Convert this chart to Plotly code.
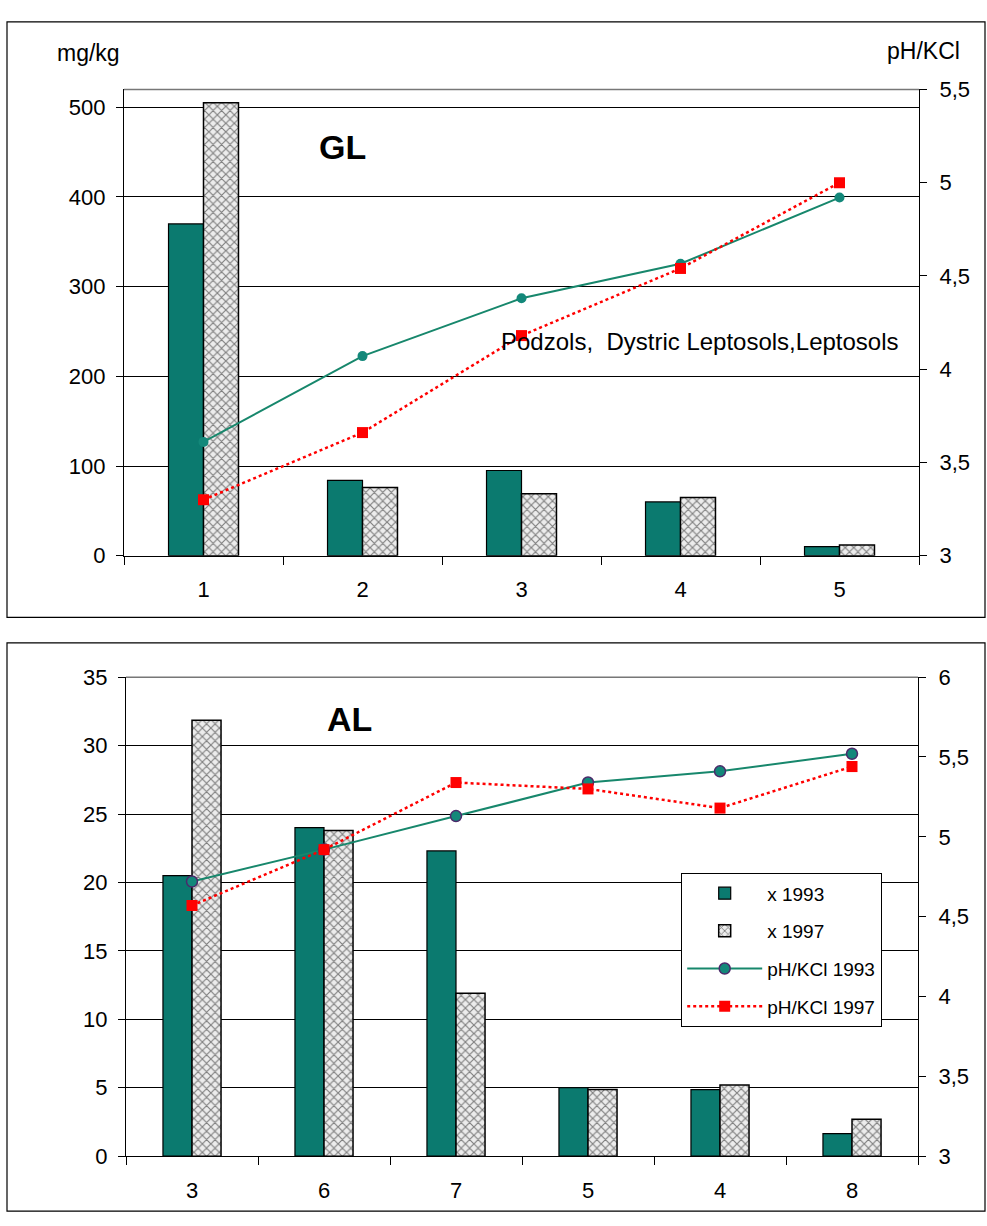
import plotly.graph_objects as go

FONT = "Liberation Sans, Arial, sans-serif"

# ---- data: top panel (GL) ----
gl_cats = ["1", "2", "3", "4", "5"]
gl_x1993 = [370, 84, 95, 60, 10]
gl_x1997 = [505, 76, 69, 65, 12]
gl_ph1993 = [3.61, 4.07, 4.38, 4.565, 4.92]
gl_ph1997 = [3.30, 3.66, 4.18, 4.54, 5.00]
gl_left_ticks = [0, 100, 200, 300, 400, 500]
gl_right_vals = [3, 3.5, 4, 4.5, 5, 5.5]
gl_right_text = ["3", "3,5", "4", "4,5", "5", "5,5"]

# ---- data: bottom panel (AL) ----
al_cats = ["3", "6", "7", "5", "4", "8"]
al_x1993 = [20.5, 24.0, 22.3, 5.0, 4.87, 1.65]
al_x1997 = [31.85, 23.8, 11.9, 4.87, 5.2, 2.7]
al_ph1993 = [4.72, 4.92, 5.13, 5.34, 5.41, 5.52]
al_ph1997 = [4.57, 4.92, 5.34, 5.30, 5.18, 5.44]
al_left_ticks = [0, 5, 10, 15, 20, 25, 30, 35]
al_right_vals = [3, 3.5, 4, 4.5, 5, 5.5, 6]
al_right_text = ["3", "3,5", "4", "4,5", "5", "5,5", "6"]

W, H = 987, 1226
TEAL_BAR = "#0b7a6f"
TEAL_LINE = "#17876c"
RED = "#ff0000"

def px(x):
    return x / W

def py(y):
    return 1 - y / H

hatch = dict(shape="x", fgcolor="#111", bgcolor="#ececec", size=6, solidity=0.35)

fig = go.Figure()

# top panel traces
fig.add_trace(go.Bar(x=gl_cats, y=gl_x1993, name="x 1993", xaxis="x", yaxis="y",
                     marker=dict(color=TEAL_BAR, line=dict(color="black", width=1.2)),
                     showlegend=False, offsetgroup="a"))
fig.add_trace(go.Bar(x=gl_cats, y=gl_x1997, name="x 1997", xaxis="x", yaxis="y",
                     marker=dict(color="white", line=dict(color="black", width=1.5),
                                 pattern=hatch),
                     showlegend=False, offsetgroup="b"))
fig.add_trace(go.Scatter(x=gl_cats, y=gl_ph1993, name="pH/KCl 1993", xaxis="x", yaxis="y2",
                         mode="lines+markers", line=dict(color=TEAL_LINE, width=2),
                         marker=dict(symbol="circle", size=10, color="#13887a"),
                         showlegend=False))
fig.add_trace(go.Scatter(x=gl_cats, y=gl_ph1997, name="pH/KCl 1997", xaxis="x", yaxis="y2",
                         mode="lines+markers", line=dict(color=RED, width=2.5, dash="dot"),
                         marker=dict(symbol="square", size=11, color=RED),
                         showlegend=False))

# bottom panel traces
fig.add_trace(go.Bar(x=al_cats, y=al_x1993, name="x 1993", xaxis="x2", yaxis="y3",
                     marker=dict(color=TEAL_BAR, line=dict(color="black", width=1.2)),
                     legendgroup="g1", offsetgroup="a"))
fig.add_trace(go.Bar(x=al_cats, y=al_x1997, name="x 1997", xaxis="x2", yaxis="y3",
                     marker=dict(color="white", line=dict(color="black", width=1.5),
                                 pattern=hatch),
                     legendgroup="g2", offsetgroup="b"))
fig.add_trace(go.Scatter(x=al_cats, y=al_ph1993, name="pH/KCl 1993", xaxis="x2", yaxis="y4",
                         mode="lines+markers", line=dict(color=TEAL_LINE, width=2),
                         marker=dict(symbol="circle", size=11, color="#13887a",
                                     line=dict(color="#4b2a6b", width=1.5)),
                         legendgroup="g3"))
fig.add_trace(go.Scatter(x=al_cats, y=al_ph1997, name="pH/KCl 1997", xaxis="x2", yaxis="y4",
                         mode="lines+markers", line=dict(color=RED, width=2.5, dash="dot"),
                         marker=dict(symbol="square", size=11, color=RED),
                         legendgroup="g4"))

tickfont = dict(family=FONT, size=22, color="black")

# plot area pixels
T_L, T_R, T_T, T_B = 124, 919, 79, 555
B_L, B_R, B_T, B_B = 126, 918, 679, 1168

common_x = dict(type="category", showline=True, linecolor="black", linewidth=1.2,
                ticks="outside", ticklen=8, tickcolor="black", tickson="boundaries",
                tickfont=tickfont, showgrid=False, ticklabelstandoff=14, zeroline=False)
common_yl = dict(showline=True, linecolor="black", linewidth=1.2, ticks="outside",
                 ticklen=7, tickcolor="black", tickfont=tickfont, showgrid=True,
                 gridcolor="black", gridwidth=1, zeroline=False, ticklabelstandoff=6)
common_yr = dict(showline=True, linecolor="black", linewidth=1.2, ticks="outside",
                 ticklen=7, tickcolor="black", tickfont=tickfont, showgrid=False,
                 zeroline=False, side="right", ticklabelstandoff=8)

fig.update_layout(
    width=W, height=H,
    margin=dict(l=0, r=0, t=0, b=0),
    paper_bgcolor="white", plot_bgcolor="white",
    barmode="group", bargap=0.56, bargroupgap=0,
    font=dict(family=FONT, color="black"),
    xaxis=dict(domain=[px(T_L), px(T_R)], anchor="y", **common_x),
    yaxis=dict(domain=[py(T_B), py(T_T)], anchor="x", range=[0, 520],
               tickvals=gl_left_ticks, **common_yl),
    yaxis2=dict(overlaying="y", anchor="x", range=[3, 5.5],
                tickvals=gl_right_vals, ticktext=gl_right_text, **common_yr),
    xaxis2=dict(domain=[px(B_L), px(B_R)], anchor="y3", **common_x),
    yaxis3=dict(domain=[py(B_B), py(B_T)], anchor="x2", range=[0, 35],
                tickvals=al_left_ticks, **common_yl),
    yaxis4=dict(overlaying="y3", anchor="x2", range=[3, 6],
                tickvals=al_right_vals, ticktext=al_right_text, **common_yr),
    legend=dict(x=px(681), y=py(879), xanchor="left", yanchor="top",
                bgcolor="white", bordercolor="black", borderwidth=1.2,
                font=dict(family=FONT, size=19, color="black"),
                tracegroupgap=10, itemwidth=75),
)

shapes = [
    # panel frames
    dict(type="rect", xref="paper", yref="paper", x0=px(7), x1=px(985), y0=py(618), y1=py(10),
         line=dict(color="black", width=1.2)),
    dict(type="rect", xref="paper", yref="paper", x0=px(7), x1=px(985), y0=py(1224), y1=py(644),
         line=dict(color="black", width=1.2)),
    # plot area top lines
    dict(type="line", xref="paper", yref="paper", x0=px(T_L), x1=px(T_R), y0=py(T_T), y1=py(T_T),
         line=dict(color="#777", width=1.5)),
    dict(type="line", xref="paper", yref="paper", x0=px(B_L), x1=px(B_R), y0=py(B_T), y1=py(B_T),
         line=dict(color="#777", width=1.5)),
]
fig.update_layout(shapes=shapes)

def ann(text, x, y, size, xanchor="center"):
    return dict(text=text, x=px(x), y=py(y), xref="paper", yref="paper", showarrow=False,
                xanchor=xanchor, yanchor="middle",
                font=dict(family=FONT, size=size, color="black"))

annotations = [
    ann("mg/kg", 88, 42, 23),
    ann("pH/KCl", 923, 40, 23),
    ann("<b>GL</b>", 342, 138, 34),
    ann("Podzols,  Dystric Leptosols,Leptosols", 499, 336, 24, xanchor="left"),
    ann("<b>AL</b>", 349, 722, 34),
]
fig.update_layout(annotations=annotations)

fig.write_html("out.html")
